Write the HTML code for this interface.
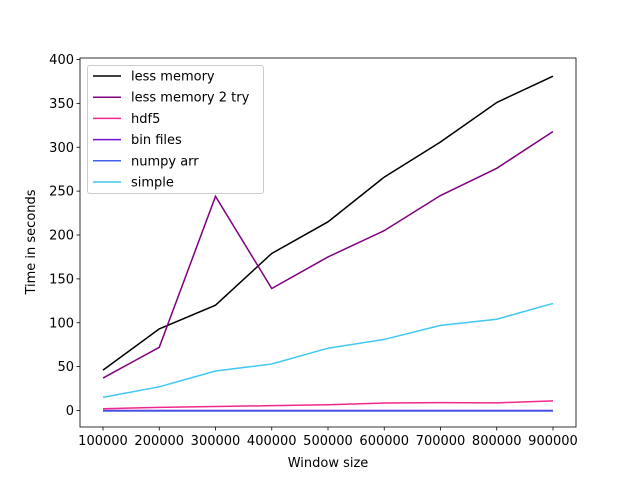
<!DOCTYPE html>
<html><head><meta charset="utf-8"><style>
body{margin:0;background:#fff;}
svg text{font-family:"DejaVu Sans","Liberation Sans",sans-serif;font-size:13px;fill:#000;}
</style></head><body>
<svg id="chart" width="640" height="480" xmlns="http://www.w3.org/2000/svg">
<rect width="640" height="480" fill="#fff"/>
<g id="plot"></g>
</svg>
<script>
const categories=[100000,200000,300000,400000,500000,600000,700000,800000,900000];
const lessMemory=[46,93,120,179,215,266,306,351,381];
const lessMemory2=[37,72,244,139,175,205,245,276,318];
const hdf5=[2,3.5,4.5,5.5,6.5,8.5,9,8.7,11];
const binFiles=[0,0,0,0,0,0,0,0,0];
const numpyArr=[-0.5,-0.5,-0.5,-0.5,-0.5,-0.5,-0.5,-0.5,-0.5];
const simple=[15,27,45,53,71,81,97,104,122];
const yTicks=[0,50,100,150,200,250,300,350,400];
const xTicks=[100000,200000,300000,400000,500000,600000,700000,800000,900000];
const seriesNames=["less memory","less memory 2 try","hdf5","bin files","numpy arr","simple"];
const seriesData=[lessMemory,lessMemory2,hdf5,binFiles,numpyArr,simple];
const colors=["#000000","#800080","#f0288c","#7010d0","#4060e8","#40c8f0"];

const NS="http://www.w3.org/2000/svg";
const g=document.getElementById('plot');
const L=80,R=576,T=58,B=427;
function xs(v){return 103+(v-100000)*(553-103)/800000;}
function ys(v){return 410.5-v*(410.5-59.5)/400;}
function mk(t,a,p){const e=document.createElementNS(NS,t);for(const k in a)e.setAttribute(k,a[k]);(p||g).appendChild(e);return e;}

seriesData.forEach((d,i)=>{
  const pts=d.map((v,j)=>xs(categories[j])+","+ys(v)).join(" ");
  const pl=mk('polyline',{points:pts,fill:'none',stroke:colors[i],'stroke-width':1.5});
  
  
});

const frame=mk('rect',{x:L,y:T,width:R-L,height:B-T,fill:'none',stroke:'#000','stroke-width':0.8});



yTicks.forEach(v=>{
  const y=ys(v);
  mk('line',{x1:L-3.5,x2:L,y1:y,y2:y,stroke:'#000','stroke-width':0.8});
  const t=mk('text',{x:L-6,y:y+4.5,'text-anchor':'end'});t.textContent=v;
  
  
});
xTicks.forEach(v=>{
  const x=xs(v);
  mk('line',{x1:x,x2:x,y1:B,y2:B+3.5,stroke:'#000','stroke-width':0.8});
  const t=mk('text',{x:x,y:B+18,'text-anchor':'middle'});t.textContent=v;
  
  
});
const xt=mk('text',{x:328,y:467,'text-anchor':'middle'});xt.textContent='Window size';


const yt=mk('text',{x:35,y:242,'text-anchor':'middle',transform:'rotate(-90 35 242)'});yt.textContent='Time in seconds';



const lg=mk('g',{});


mk('rect',{x:87.5,y:65.5,width:176,height:128,rx:2.5,fill:'#fff','fill-opacity':0.8,stroke:'#ccc'},lg);
seriesNames.forEach((n,i)=>{
  const y=76+i*21.2;
  mk('line',{x1:93,x2:121,y1:y,y2:y,stroke:colors[i],'stroke-width':1.5},lg);
  const t=mk('text',{x:131,y:y+4.5},lg);t.textContent=n;
  
  
});
</script>
</body></html>
